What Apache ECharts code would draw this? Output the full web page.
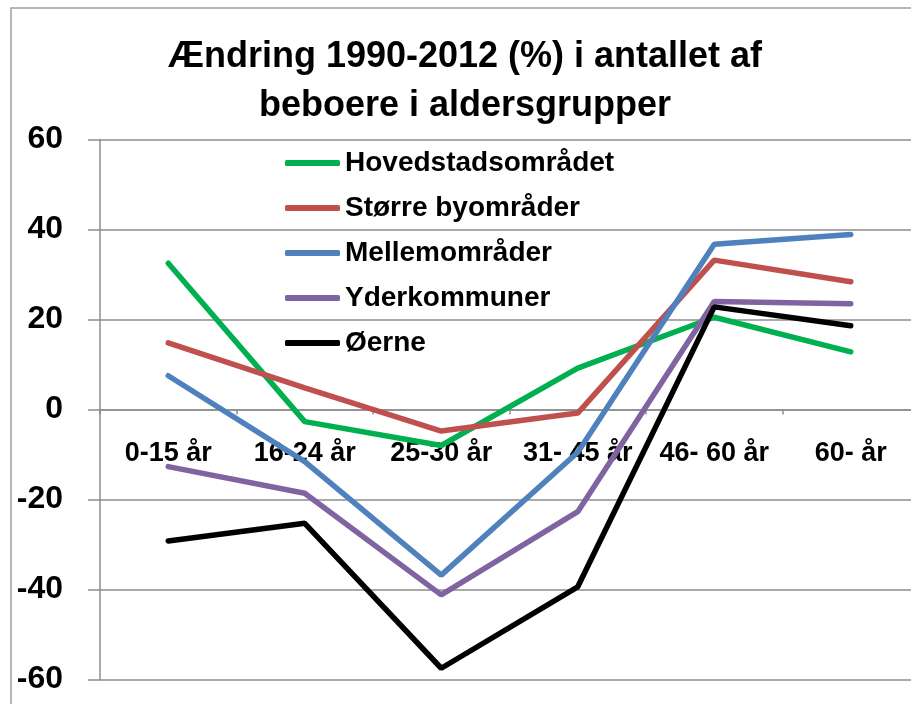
<!DOCTYPE html>
<html>
<head>
<meta charset="utf-8">
<script src="https://cdn.jsdelivr.net/npm/echarts@6/dist/echarts.min.js"></script>
<style>
html, body { margin: 0; padding: 0; background: #fff; }
#main { width: 911px; height: 704px; }
</style>
</head>
<body>
<div id="main"></div>
<script>
var dom = document.getElementById("main");
var myChart = echarts.init(dom);

var categories = ['0-15 år', '16-24 år', '25-30 år', '31- 45 år', '46- 60 år', '60- år'];
var hovedstad = [32.5, -2.7, -8.0, 9.2, 20.5, 12.8];
var storreBy = [14.8, 4.8, -4.8, -0.8, 33.2, 28.4];
var mellem = [7.5, -11.6, -36.8, -9.5, 36.7, 38.9];
var yder = [-12.7, -18.6, -41.2, -22.7, 24.0, 23.5];
var oerne = [-29.2, -25.3, -57.5, -39.4, 22.8, 18.6];

var names = ['Hovedstadsområdet', 'Større byområder', 'Mellemområder', 'Yderkommuner', 'Øerne'];
var colors = ['#00b050', '#c0504d', '#4f81bd', '#8064a2', '#000000'];
var values = [hovedstad, storreBy, mellem, yder, oerne];

var font = "'Liberation Sans', Arial, sans-serif";
var gray = '#8c8c8c';

var option = {
    animation: false,
    textStyle: { fontFamily: font },
    title: {
        text: 'Ændring 1990-2012 (%) i antallet af\nbeboere i aldersgrupper',
        left: 460,
        top: 28,
        textAlign: 'center',
        textStyle: {
            fontFamily: font,
            fontSize: 36,
            fontWeight: 'bold',
            lineHeight: 49,
            color: '#000'
        }
    },
    legend: {
        orient: 'vertical',
        left: 280,
        top: 144,
        icon: 'roundRect',
        itemWidth: 55,
        itemHeight: 6,
        itemGap: 17,
        textStyle: {
            fontFamily: font,
            fontSize: 28,
            fontWeight: 'bold',
            lineHeight: 28,
            color: '#000'
        },
        data: names
    },
    graphic: [{
        type: 'rect',
        shape: { x: 11, y: 8, width: 1000, height: 1000 },
        style: { fill: 'none', stroke: '#a0a0a0', lineWidth: 1.5 },
        silent: true
    }],
    grid: {
        left: 100,
        top: 139.5,
        width: 819,
        height: 540,
        outerBoundsMode: 'none'
    },
    xAxis: {
        type: 'category',
        data: categories,
        boundaryGap: true,
        position: 'bottom',
        offset: -270,
        axisLine: { onZero: false, lineStyle: { color: gray, width: 1.5 } },
        axisTick: { show: true, length: 5, lineStyle: { color: gray, width: 1.5 } },
        axisLabel: {
            margin: 31,
            fontFamily: font,
            fontSize: 27,
            fontWeight: 'bold',
            color: '#000',
            interval: 0
        },
        splitLine: { show: false }
    },
    yAxis: {
        type: 'value',
        min: -60,
        max: 60,
        interval: 20,
        axisLine: { show: true, lineStyle: { color: gray, width: 1.5 } },
        axisTick: { show: true, length: 12, lineStyle: { color: gray, width: 1.5 } },
        axisLabel: {
            margin: 37,
            fontFamily: font,
            fontSize: 32,
            fontWeight: 'bold',
            color: '#000'
        },
        splitLine: { lineStyle: { color: gray, width: 1.5 } }
    },
    series: names.map(function (name, i) {
        return {
            name: name,
            type: 'line',
            data: values[i],
            symbol: 'none',
            color: colors[i],
            lineStyle: { width: 5.5, color: colors[i], cap: 'round' }
        };
    })
};

myChart.setOption(option);
</script>
</body>
</html>
